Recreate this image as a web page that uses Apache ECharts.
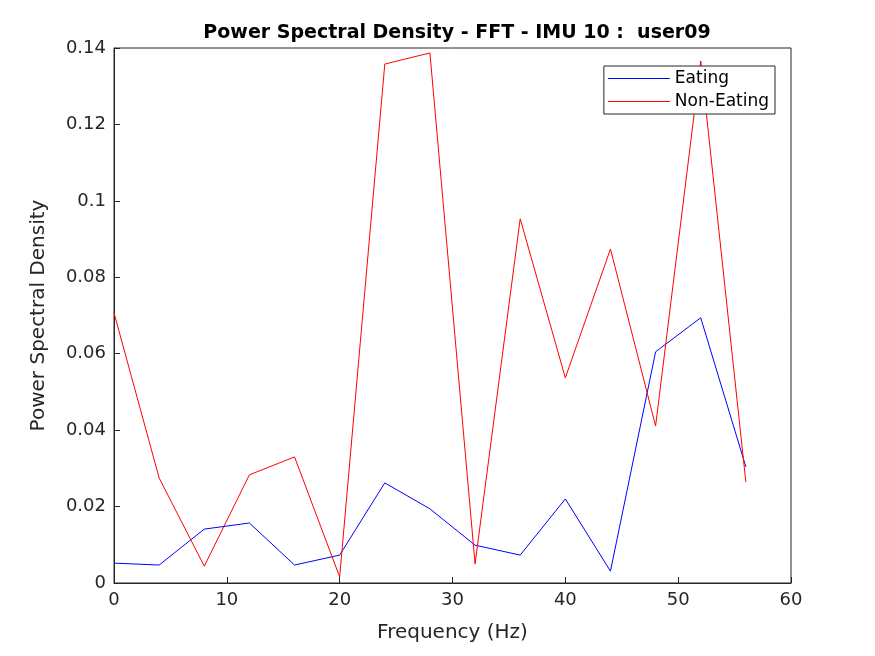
<!DOCTYPE html>
<html>
<head>
<meta charset="UTF-8">
<title>Power Spectral Density</title>
<script src="https://cdn.jsdelivr.net/npm/echarts/dist/echarts.min.js"></script>
</head>
<body style="margin:0">
<div id="chart" style="width:875px;height:656px;"></div>
<script>
// frequencies (Hz)
var freqs = [0, 4, 8, 12, 16, 20, 24, 28, 32, 36, 40, 44, 48, 52, 56];
// Eating
var eating = [0.0052, 0.0047, 0.0141, 0.0157, 0.0047, 0.0073, 0.0262, 0.0194, 0.0099, 0.0073, 0.0220, 0.0031, 0.0605, 0.0694, 0.0304];
// Non-Eating
var nonEating = [0.0707, 0.0275, 0.0044, 0.0283, 0.0330, 0.0016, 0.1358, 0.1387, 0.0050, 0.0953, 0.0537, 0.0874, 0.0411, 0.1366, 0.0264];

function pairs(ys) { return freqs.map(function (f, i) { return [f, ys[i]]; }); }

var chart = echarts.init(document.getElementById('chart'));
var axisCommon = {
    axisLine: { show: true, lineStyle: { color: '#262626' } },
    axisTick: { show: true, inside: true, length: 6, lineStyle: { color: '#262626' } },
    axisLabel: { color: '#262626', fontSize: 18, fontFamily: 'DejaVu Sans' },
    splitLine: { show: false },
    nameTextStyle: { color: '#262626', fontSize: 20, fontFamily: 'DejaVu Sans' }
};
chart.setOption({
    animation: false,
    backgroundColor: '#fff',
    title: {
        text: 'Power Spectral Density - FFT - IMU 10 :  user09',
        left: 452, top: 19, textAlign: 'center',
        textStyle: { fontSize: 19, fontWeight: 'bold', color: '#000', fontFamily: 'DejaVu Sans' }
    },
    grid: { left: 114, right: 84, top: 48, bottom: 73, show: true, borderColor: '#262626', borderWidth: 1 },
    legend: {
        right: 100, top: 66, orient: 'vertical',
        backgroundColor: '#fff', borderColor: '#262626', borderWidth: 1,
        padding: [4, 6, 4, 4], itemGap: 6,
        itemWidth: 62, itemHeight: 1, icon: 'rect',
        textStyle: { fontSize: 17, color: '#000', fontFamily: 'DejaVu Sans' },
        data: ['Eating', 'Non-Eating']
    },
    xAxis: Object.assign({}, axisCommon, {
        type: 'value', min: 0, max: 60, interval: 10,
        name: 'Frequency (Hz)', nameLocation: 'middle', nameGap: 40
    }),
    yAxis: Object.assign({}, axisCommon, {
        type: 'value', min: 0, max: 0.14, interval: 0.02,
        name: 'Power Spectral Density', nameLocation: 'middle', nameGap: 65,
        axisLabel: Object.assign({}, axisCommon.axisLabel, {
            formatter: function (v) { return v === 0 ? '0' : String(+v.toFixed(2)); }
        })
    }),
    series: [
        { name: 'Eating', type: 'line', data: pairs(eating), symbol: 'none', color: '#0000ff', lineStyle: { width: 1 } },
        { name: 'Non-Eating', type: 'line', data: pairs(nonEating), symbol: 'none', color: '#ff0000', lineStyle: { width: 1 } }
    ]
});
</script>
</body>
</html>
